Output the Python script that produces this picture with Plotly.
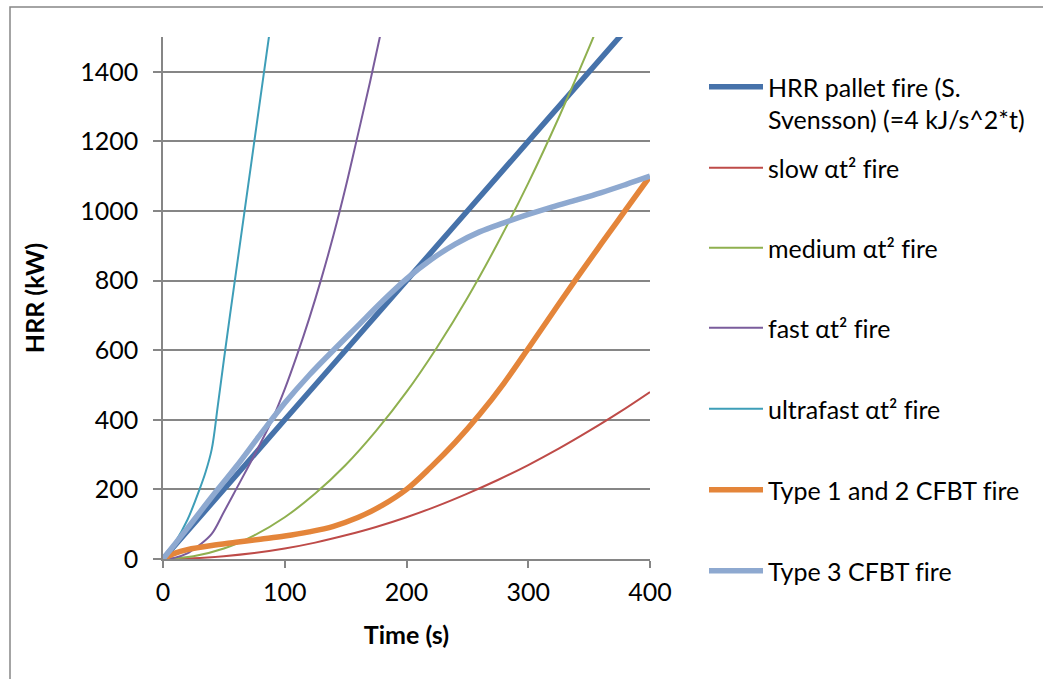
import plotly.graph_objects as go

# Time axis (s) and heat release rate (kW) for each fire curve
t_pallet = [0, 100, 200, 300, 400]
hrr_pallet = [0, 400, 800, 1200, 1600]

t_alpha = [0, 25, 50, 75, 100, 125, 150, 175, 200, 225, 250, 275, 300, 325, 350, 375, 400]
hrr_slow = [0, 2, 8, 17, 30, 47, 68, 92, 120, 152, 188, 227, 270, 317, 368, 422, 480]
hrr_medium = [0, 8, 30, 68, 120, 188, 270, 368, 480, 608, 750, 908, 1080, 1268, 1470, 1688, 1920]

t_fast = [0, 10, 20, 25, 30, 40, 50, 60, 70, 80, 90, 100, 110, 120, 130, 140, 150, 160, 170, 180]
hrr_fast = [0, 4, 16, 28, 40, 72, 135, 200, 265, 332, 403, 488, 585, 690, 805, 930, 1068, 1218, 1370, 1530]

t_ultrafast = [0, 10, 20, 30, 35, 40, 45, 50, 55, 60, 65, 70, 75, 80, 85, 90]
hrr_ultrafast = [0, 48, 112, 200, 250, 315, 440, 572, 700, 825, 950, 1075, 1200, 1325, 1450, 1575]

t_cfbt = [0, 10, 20, 40, 60, 80, 100, 120, 140, 160, 180, 200, 220, 240, 260, 280, 300, 320, 340, 360, 380, 400]
hrr_type12 = [0, 17, 27, 39, 48, 57, 66, 78, 94, 119, 154, 200, 264, 335, 415, 505, 605, 707, 808, 906, 1003, 1100]
hrr_type3 = [0, 44, 88, 178, 265, 358, 448, 528, 600, 670, 740, 805, 860, 905, 940, 966, 990, 1012, 1032, 1053, 1076, 1100]

ZWNJ = "\u200c"  # keeps "f" and "i" as separate glyphs
series = [
    (f"HRR pallet f{ZWNJ}ire (S.<br>Svensson) (=4 kJ/s^2*t)", t_pallet, hrr_pallet, "#4672AA", 5.5),
    (f"slow αt² f{ZWNJ}ire", t_alpha, hrr_slow, "#BE4B48", 2),
    (f"medium αt² f{ZWNJ}ire", t_alpha, hrr_medium, "#8FB04F", 2),
    (f"fast αt² f{ZWNJ}ire", t_fast, hrr_fast, "#7A5C9C", 2),
    (f"ultrafast αt² f{ZWNJ}ire", t_ultrafast, hrr_ultrafast, "#3E9EB8", 2),
    (f"Type 1 and 2 CFBT f{ZWNJ}ire", t_cfbt, hrr_type12, "#E4853A", 5.5),
    (f"Type 3 CFBT f{ZWNJ}ire", t_cfbt, hrr_type3, "#8EA9D0", 5.5),
]

FONT = "Lato, 'Noto Sans', sans-serif"
GRID = "#868686"

# vertical position (px) of each legend entry
legend_y_px = [64, 168, 248, 328, 409, 490, 571]
plot_top, plot_bottom = 37, 559
plot_h = plot_bottom - plot_top
plot_left, plot_w = 163, 487
legend_x = (704 - plot_left) / plot_w

fig = go.Figure()
layout_legends = {}
for i, (name, tx, hy, col, w) in enumerate(series):
    key = "legend" if i == 0 else f"legend{i + 1}"
    fig.add_trace(go.Scatter(
        x=tx, y=hy, name=name, mode="lines",
        line=dict(color=col, width=w, shape="spline", smoothing=1.0),
        legend=key,
    ))
    layout_legends[key] = dict(
        x=legend_x, xanchor="left",
        y=(plot_bottom - legend_y_px[i]) / plot_h,
        yanchor="top" if i == 0 else "middle",
        valign="top",
        itemwidth=54,
        font=dict(family=FONT, size=25, color="black"),
        bgcolor="rgba(0,0,0,0)",
        borderwidth=0,
    )

fig.update_layout(
    width=1043, height=679,
    margin=dict(l=plot_left, r=1043 - plot_left - plot_w, t=plot_top, b=679 - plot_bottom),
    paper_bgcolor="white", plot_bgcolor="white",
    font=dict(family=FONT, size=25, color="black"),
    showlegend=True,
    **layout_legends,
)

fig.update_xaxes(
    range=[0, 400], dtick=100, tick0=0,
    showgrid=False, zeroline=False,
    showline=True, linecolor=GRID, linewidth=1.5,
    ticks="outside", ticklen=7, tickwidth=1.5, tickcolor=GRID,
    ticklabelstandoff=3,
    tickfont=dict(family=FONT, size=25, color="black"),
    title=dict(text="<b>Time (s)</b>", font=dict(family=FONT, size=25, color="black"), standoff=22),
)
fig.update_yaxes(
    range=[0, 1500], dtick=200, tick0=0,
    showgrid=True, gridcolor=GRID, gridwidth=1.5, zeroline=False,
    showline=True, linecolor=GRID, linewidth=1.5,
    ticks="outside", ticklen=8, tickwidth=1.5, tickcolor=GRID,
    ticklabelstandoff=10,
    tickfont=dict(family=FONT, size=25, color="black"),
    title=dict(text="<b>HRR (kW)</b>", font=dict(family=FONT, size=25, color="black"), standoff=28),
)

# outer chart frame
fig.add_shape(
    type="rect", xref="paper", yref="paper",
    x0=(10 - plot_left) / plot_w, x1=(1060 - plot_left) / plot_w,
    y0=(plot_bottom - 700) / plot_h, y1=(plot_bottom - 7) / plot_h,
    line=dict(color=GRID, width=1.5), fillcolor="rgba(0,0,0,0)", layer="below",
)

fig.write_html("out.html")
